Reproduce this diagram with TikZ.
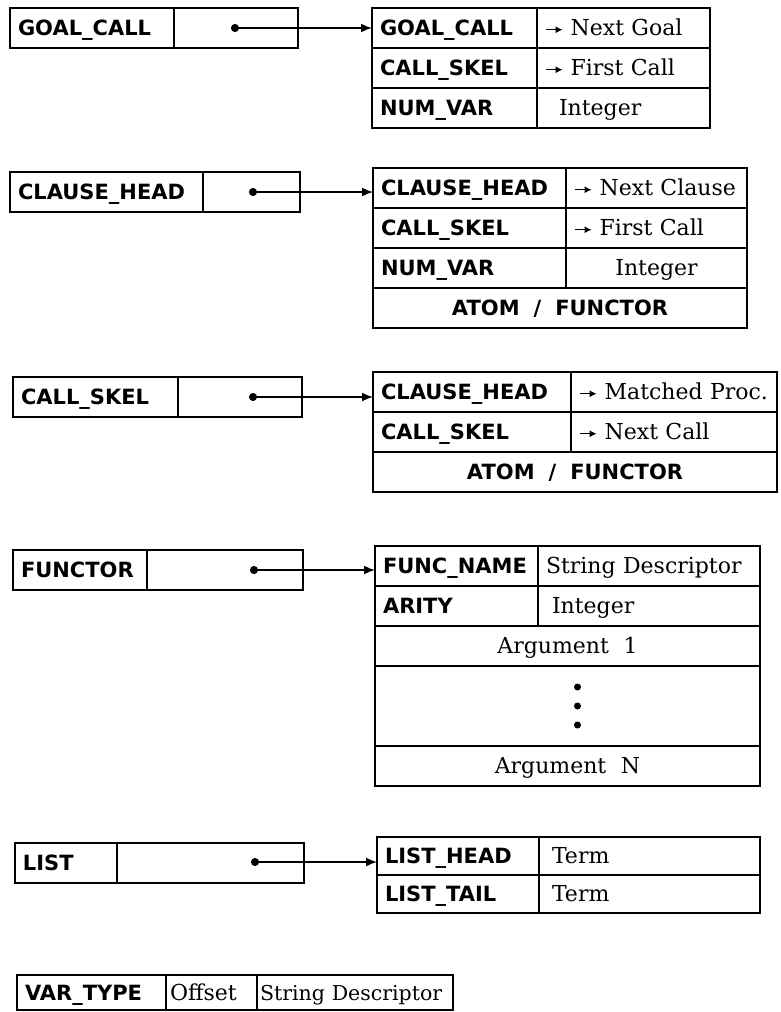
\documentclass[tikz,border=0pt]{standalone}
\usepackage{fontspec}
\usetikzlibrary{arrows.meta}

\newfontfamily\tagface{DejaVu Sans}
\newfontfamily\valface{DejaVu Serif}
\newcommand{\tagfnt}{\tagface\bfseries\fontsize{21}{25}\selectfont}
\newcommand{\valfnt}{\valface\fontsize{22}{26}\selectfont}
\newcommand{\arr}{\tikz[baseline=-6pt]\draw[line width=1.3pt, -{Latex[length=7pt, width=7pt]}] (0pt,0pt) -- (17pt,0pt);}

\begin{document}
\begin{tikzpicture}[x=1pt, y=-1pt,
  cell/.style={draw, line width=1.9pt, anchor=north west, outer sep=0pt,
    inner xsep=8pt, inner ysep=0pt, minimum height=40pt,
    text height=15.5pt, text depth=0pt, align=left, font=\tagfnt},
  val/.style={cell, font=\valfnt},
  wide/.style={cell, align=center},
  arg/.style={val, align=center},
  ptr/.style={line width=1.6pt, {Circle[length=8pt]}-{Latex[length=11pt, width=9pt]}}
]
  \useasboundingbox (0,0) rectangle (780,1012);

  % GOAL_CALL
  \node[cell, text width=148pt] (gc-tag) at (10,8) {GOAL\_CALL};
  \node[cell, text width=108pt] (gc-ptr) at (gc-tag.north east) {};
  \coordinate (gc-dot) at (231,28);
  \node[cell, text width=149pt] (gc-k1) at (372,8) {GOAL\_CALL};
  \node[val, text width=157pt] (gc-v1) at (gc-k1.north east) {\arr{} Next~Goal};
  \node[cell, text width=149pt] (gc-k2) at (gc-k1.south west) {CALL\_SKEL};
  \node[val, text width=157pt] (gc-v2) at (gc-k2.north east) {\arr{} First~Call};
  \node[cell, text width=149pt] (gc-k3) at (gc-k2.south west) {NUM\_VAR};
  \node[val, text width=157pt] (gc-v3) at (gc-k3.north east) {\hspace*{14pt}Integer};
  \draw[ptr] (gc-dot) -- (gc-dot -| gc-k1.west);

  % CLAUSE_HEAD
  \node[cell, text width=177pt] (ch-tag) at (10,172) {CLAUSE\_HEAD};
  \node[cell, text width=81pt] (ch-ptr) at (ch-tag.north east) {};
  \coordinate (ch-dot) at (249,192);
  \node[cell, text width=177pt] (ch-k1) at (373,168) {CLAUSE\_HEAD};
  \node[val, text width=165pt] (ch-v1) at (ch-k1.north east) {\arr{} Next~Clause};
  \node[cell, text width=177pt] (ch-k2) at (ch-k1.south west) {CALL\_SKEL};
  \node[val, text width=165pt] (ch-v2) at (ch-k2.north east) {\arr{} First~Call};
  \node[cell, text width=177pt] (ch-k3) at (ch-k2.south west) {NUM\_VAR};
  \node[arg, text width=165pt] (ch-v3) at (ch-k3.north east) {Integer};
  \node[wide, text width=358pt] (ch-atom) at (ch-k3.south west) {ATOM~~/~~FUNCTOR};
  \draw[ptr] (ch-dot) -- (ch-dot -| ch-k1.west);

  % CALL_SKEL
  \node[cell, text width=149pt] (cs-tag) at (13,377) {CALL\_SKEL};
  \node[cell, text width=108pt] (cs-ptr) at (cs-tag.north east) {};
  \coordinate (cs-dot) at (249,397);
  \node[cell, text width=182pt] (cs-k1) at (373,372) {CLAUSE\_HEAD};
  \node[val, text width=190pt] (cs-v1) at (cs-k1.north east) {\arr{} Matched~Proc.};
  \node[cell, text width=182pt] (cs-k2) at (cs-k1.south west) {CALL\_SKEL};
  \node[val, text width=190pt] (cs-v2) at (cs-k2.north east) {\arr{} Next~Call};
  \node[wide, text width=388pt] (cs-atom) at (cs-k2.south west) {ATOM~~/~~FUNCTOR};
  \draw[ptr] (cs-dot) -- (cs-dot -| cs-k1.west);

  % FUNCTOR
  \node[cell, text width=118pt] (fn-tag) at (13,550) {FUNCTOR};
  \node[cell, text width=140pt] (fn-ptr) at (fn-tag.north east) {};
  \coordinate (fn-dot) at (250,570);
  \node[cell, text width=147pt] (fn-k1) at (375,546) {FUNC\_NAME};
  \node[val, text width=206pt] (fn-v1) at (fn-k1.north east) {String~Descriptor};
  \node[cell, text width=147pt] (fn-k2) at (fn-k1.south west) {ARITY};
  \node[val, text width=206pt] (fn-v2) at (fn-k2.north east) {\hspace*{6pt}Integer};
  \node[arg, text width=369pt] (fn-a1) at (fn-k2.south west) {Argument~~1};
  \node[arg, text width=369pt, minimum height=80pt] (fn-more) at (fn-a1.south west) {};
  \node[arg, text width=369pt] (fn-an) at (fn-more.south west) {Argument~~N};
  \foreach \k in {-1,0,1}
    \fill ([xshift=10pt, yshift={\k*19pt}]fn-more.center) circle (3.5pt);
  \draw[ptr] (fn-dot) -- (fn-dot -| fn-k1.west);

  % LIST
  \node[cell, text width=86pt] (ls-tag) at (15,843) {LIST};
  \node[cell, text width=171pt] (ls-ptr) at (ls-tag.north east) {};
  \coordinate (ls-dot) at (251,862);
  \node[cell, text width=146pt, minimum height=38pt] (ls-k1) at (377,837) {LIST\_HEAD};
  \node[val, text width=205pt, minimum height=38pt] (ls-v1) at (ls-k1.north east) {\hspace*{5pt}Term};
  \node[cell, text width=146pt, minimum height=38pt] (ls-k2) at (ls-k1.south west) {LIST\_TAIL};
  \node[val, text width=205pt, minimum height=38pt] (ls-v2) at (ls-k2.north east) {\hspace*{5pt}Term};
  \draw[ptr] (ls-dot) -- (ls-dot -| ls-k1.west);

  % VAR_TYPE
  \node[cell, text width=133pt, minimum height=35pt] (vt-tag) at (17,975) {VAR\_TYPE};
  \node[val, text width=83pt, inner xsep=4pt, minimum height=35pt] (vt-off) at (vt-tag.north east) {Offset};
  \node[val, text width=190pt, inner xsep=3pt, minimum height=35pt,
    font=\valface\fontsize{20.5}{24}\selectfont] (vt-str) at (vt-off.north east) {\mbox{String Descriptor}};
\end{tikzpicture}
\end{document}
